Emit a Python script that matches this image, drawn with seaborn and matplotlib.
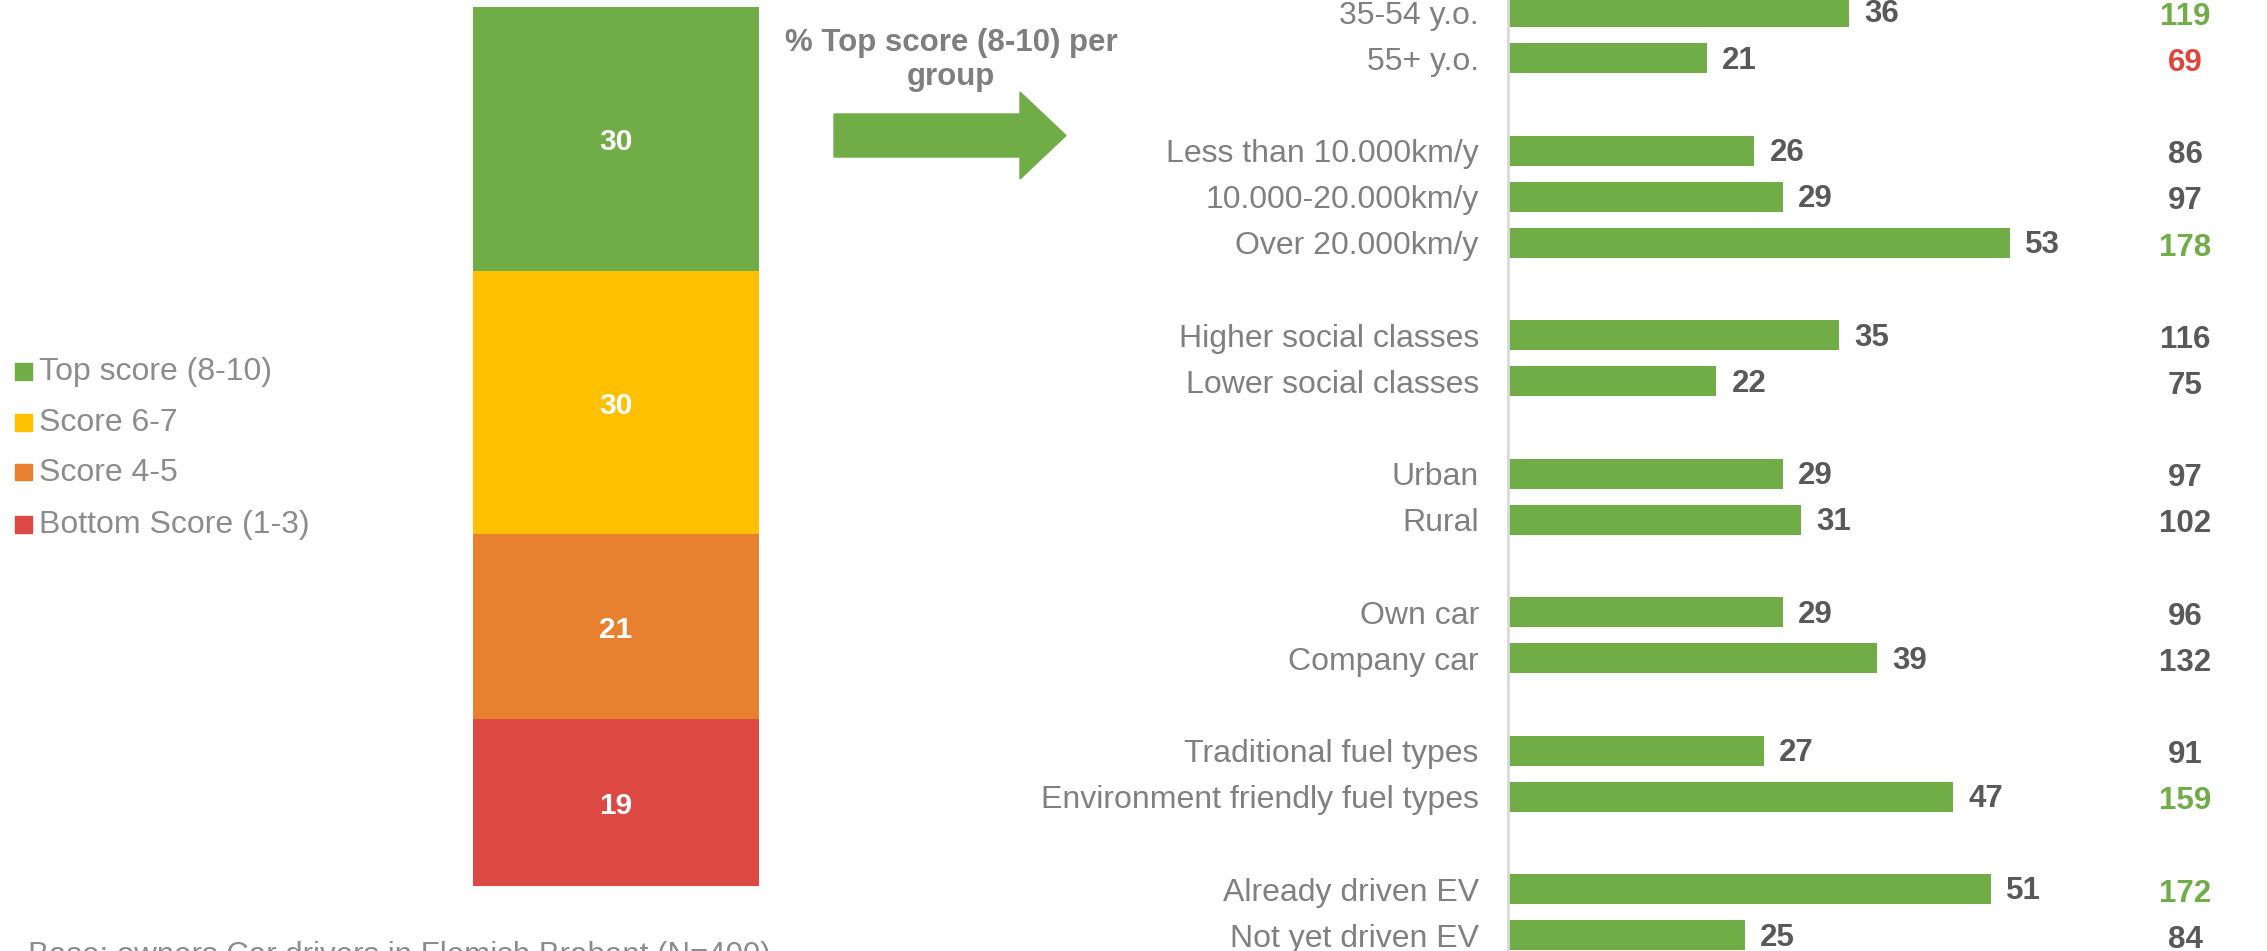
import numpy as np
import pandas as pd
import matplotlib
matplotlib.use("Agg")
import matplotlib.pyplot as plt
import seaborn as sns
from matplotlib.patches import Rectangle, Polygon
from matplotlib.transforms import blended_transform_factory

# stacked bar (overall score distribution, %)
score_labels = ["Top score (8-10)", "Score 6-7", "Score 4-5", "Bottom Score (1-3)"]
score_values = [30, 30, 21, 19]
score_colors = ["#70AD47", "#FFC000", "#E8812F", "#DD4842"]

# % top score per group (groups separated by a blank row)
group_labels = [
    ["35-54 y.o.", "55+ y.o."],
    ["Less than 10.000km/y", "10.000-20.000km/y", "Over 20.000km/y"],
    ["Higher social classes", "Lower social classes"],
    ["Urban", "Rural"],
    ["Own car", "Company car"],
    ["Traditional fuel types", "Environment friendly fuel types"],
    ["Already driven EV", "Not yet driven EV"],
]
top_scores = [36, 21, 26, 29, 53, 35, 22, 29, 31, 29, 39, 27, 47, 51, 25]
index_values = [119, 69, 86, 97, 178, 116, 75, 97, 102, 96, 132, 91, 159, 172, 84]
index_sig = ["up", "down", "none", "none", "up", "none", "none", "none",
             "none", "none", "none", "none", "up", "up", "none"]

GREEN = "#70AD47"
LABEL_GREY = "#808080"
DARK_GREY = "#595959"
sig_colors = {"up": GREEN, "down": "#E0443A", "none": DARK_GREY}

# build row positions with a gap between groups
labels, positions = [], []
pos = 0
for group in group_labels:
    for lab in group:
        labels.append(lab)
        positions.append(pos)
        pos += 1
    pos += 1
df = pd.DataFrame({"label": labels, "pos": positions, "score": top_scores,
                   "index": index_values, "sig": index_sig})

sns.set_style("white")
plt.rcParams["font.family"] = ["Liberation Sans", "DejaVu Sans"]

W, H = 2267, 951
fig = plt.figure(figsize=(W / 100, H / 100), dpi=100)


def fx(px):
    return px / W


def fy(py):
    return 1 - py / H


# ---- stacked bar ----
ax_s = fig.add_axes([fx(473), fy(886), fx(759) - fx(473), fy(7) - fy(886)])
cum = np.cumsum(score_values[::-1])[::-1]
for total, col in zip(cum, score_colors):
    sns.barplot(x=[""], y=[total], color=col, saturation=1, width=1,
                linewidth=0, ax=ax_s)
tops = cum
bottoms = np.append(cum[1:], 0)
for v, t, b in zip(score_values, tops, bottoms):
    ax_s.text(0, (t + b) / 2 - 0.4, str(v), ha="center", va="center", color="white",
              fontsize=21.5, fontweight="bold")
ax_s.set_xlim(-0.5, 0.5)
ax_s.set_ylim(0, 100)
ax_s.axis("off")

# ---- legend ----
leg_y = [371, 422, 472, 524]
for lab, col, y in zip(score_labels, score_colors, leg_y):
    fig.patches.append(Rectangle((fx(15), fy(y + 8.5)), fx(17), fy(y - 8.5) - fy(y + 8.5),
                                 transform=fig.transFigure, color=col))
    fig.text(fx(39), fy(y + 1), lab, ha="left", va="center", fontsize=23, color="#8C8C8C")

# ---- arrow + heading ----
arrow_pts = [(834, 114), (1020, 114), (1020, 92), (1066, 135.5), (1020, 179),
             (1020, 157), (834, 157)]
fig.patches.append(Polygon([(fx(x), fy(y)) for x, y in arrow_pts], closed=True,
                           transform=fig.transFigure, color=GREEN))
fig.text(fx(951), fy(60), "% Top score (8-10) per\ngroup", ha="center", va="center",
         fontsize=22.5, fontweight="bold", color="#7F7F7F", linespacing=1.15)

# ---- horizontal bars ----
ax = fig.add_axes([fx(1508), 0, 1 - fx(1508), 1])
sns.barplot(data=df, x="score", y="pos", orient="h", native_scale=True,
            color=GREEN, saturation=1, width=0.65, linewidth=0, ax=ax)
ax.set_xlim(0, (W - 1508) / 9.466)
ax.set_ylim(20.34, -0.263)
ax.set_yticks(df["pos"])
ax.set_yticklabels(df["label"], fontsize=23, color=LABEL_GREY)
ax.set_xticks([])
ax.set_xlabel("")
ax.set_ylabel("")
ax.tick_params(axis="y", length=0, pad=21)
for side in ["top", "right", "bottom"]:
    ax.spines[side].set_visible(False)
ax.spines["left"].set_color("#D9D9D9")
ax.spines["left"].set_linewidth(2)

for _, row in df.iterrows():
    ax.annotate(str(row["score"]), (row["score"], row["pos"] + 0.05), xytext=(11, 0),
                textcoords="offset points", ha="left", va="center",
                fontsize=22.5, fontweight="bold", color=DARK_GREY)

trans = blended_transform_factory(fig.transFigure, ax.transData)
for _, row in df.iterrows():
    ax.text(fx(2185), row["pos"] + 0.1, str(row["index"]), transform=trans,
            ha="center", va="center", fontsize=22.5, fontweight="bold",
            color=sig_colors[row["sig"]])

# base note (cut off at the bottom edge, as in the source slide)
fig.text(fx(28), fy(941), "Base: owners Car drivers in Flemish Brabant (N=400)",
         ha="left", va="top", fontsize=22.5, color="#8C8C8C")

fig.savefig("out.png", dpi=100)
